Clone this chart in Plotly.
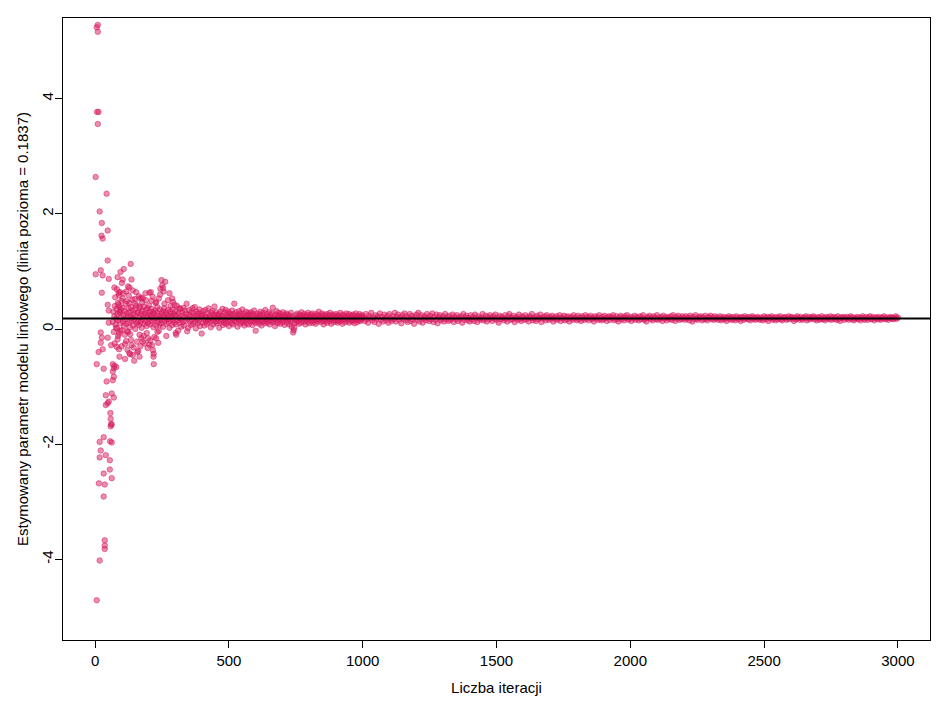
"""
Running estimate of a linear-model parameter vs. number of iterations.
R-style scatter with a horizontal reference line.
"""

import plotly.graph_objects as go

COLORS = {
    "point": "rgba(216,27,96,0.5)",
    "ref": "#000000",
    "axis": "#000000",
    "bg": "#FFFFFF",
}
FONT = "Liberation Sans, Arial, sans-serif"

REF_VALUE = 0.1837

# --- scattered early estimates (iteration, estimate) ---
early_iter = [
    10, 6, 10, 7, 13, 10, 2, 43, 17, 25, 47, 24, 28, 47, 21, 2, 28, 51, 25, 47,
    51, 51, 95, 107, 133,
    21, 25, 21, 47, 28, 13, 6, 32, 66, 72, 79, 70, 66, 70, 66, 43, 62, 70, 40, 51,
    40, 47, 57, 58, 60, 58, 62, 17, 32, 56, 62, 21, 17, 40, 55, 32, 55, 62, 14, 36,
    32, 36, 36, 36, 17, 6,
    72, 81, 89, 93, 103, 98, 116, 123, 128, 136, 141, 153, 148, 166, 173, 188, 203,
    208, 211, 238, 248, 251, 254, 256, 278, 288, 291, 297, 315,
    103, 88, 178, 228, 128, 85, 91, 166,
    78, 93, 86, 73, 81, 89, 111, 116, 123, 131, 136, 141, 131, 158, 161, 166, 173,
    178, 186, 193, 198, 203, 213, 216, 219, 218, 219, 228, 233, 241, 303, 301,
    60, 91, 128, 166,
    75, 84, 92, 99, 105, 112, 118, 121, 126, 134, 139, 144, 150, 156, 163, 169,
    176, 181, 190, 196, 201, 206, 215, 221, 226, 236, 243, 259, 266, 272, 282,
    262, 244, 112, 146, 100, 84,
]
early_est = [
    5.28, 5.24, 5.16, 3.77, 3.77, 3.56, 2.64, 2.35, 2.04, 1.84, 1.71, 1.62, 1.57,
    1.19, 1.02, 0.95, 0.93, 0.87, 0.63, 0.42, 0.32, 0.11, 0.99, 1.04, 1.13,
    -0.06, -0.15, -0.24, -0.15, -0.35, -0.40, -0.61, -0.69, -0.61, -0.64, -0.66,
    -0.68, -0.74, -0.83, -0.89, -0.91, -1.12, -1.19, -1.15, -1.26, -1.32, -1.29,
    -1.46, -1.56, -1.65, -1.69, -1.66, -1.96, -1.88, -1.95, -1.97, -2.11, -2.23,
    -2.19, -2.28, -2.51, -2.44, -2.59, -2.68, -2.70, -2.91, -3.67, -3.76, -3.82,
    -4.02, -4.71,
    0.72, 0.69, 0.59, 0.64, 0.53, 0.49, 0.65, 0.74, 0.72, 0.86, 0.67, 0.64, 0.52,
    0.53, 0.54, 0.62, 0.63, 0.64, 0.49, 0.53, 0.85, 0.76, 0.71, 0.65, 0.62, 0.53,
    0.47, 0.42, 0.36,
    0.86, 0.63, 0.53, 0.47, 0.45, 0.45, 0.30, 0.39,
    0.02, -0.03, -0.12, -0.25, -0.31, -0.35, -0.10, -0.21, -0.05, -0.09, -0.28,
    -0.45, -0.44, -0.40, -0.38, -0.10, -0.16, -0.22, -0.25, -0.07, -0.16, -0.27,
    -0.28, -0.37, -0.43, -0.48, -0.61, -0.16, -0.05, 0.07, -0.10, -0.07,
    -0.28, -0.48, -0.42, -0.48,
    0.55, -0.18, 0.38, -0.30, 0.62, -0.26, 0.48, -0.36, 0.58, -0.19, 0.51, -0.32,
    0.44, -0.22, 0.57, -0.30, 0.46, -0.12, 0.50, -0.33, 0.41, -0.20, 0.56, -0.14,
    0.45, -0.24, 0.60, 0.44, -0.12, 0.50, 0.40,
    0.82, 0.70, -0.52, -0.55, 0.80, 0.90,
]

# --- dense core near the reference line, iterations 66..298 every 2 ---
core_start, core_step = 66, 2
core_est = [
    0.12, 0.30, -0.05, 0.22, 0.40, 0.08, 0.18, 0.35, 0.01, 0.26,
    0.15, 0.42, -0.08, 0.28, 0.10, 0.33, 0.20, -0.02, 0.37, 0.13,
    0.24, 0.05, 0.31, 0.17, 0.44, 0.09, 0.27, -0.04, 0.21, 0.36,
    0.11, 0.29, 0.03, 0.23, 0.38, 0.14, 0.19, 0.32, 0.06, 0.25,
    0.16, 0.34, 0.00, 0.22, 0.41, 0.10, 0.28, 0.13, 0.30, 0.07,
    0.20, 0.37, 0.12, 0.26, 0.02, 0.31, 0.17, 0.23, 0.39, 0.09,
    0.27, 0.14, 0.33, 0.05, 0.22, 0.36, 0.11, 0.25, 0.18, 0.30,
    0.08, 0.24, 0.35, 0.13, 0.20, 0.29, 0.03, 0.26, 0.15, 0.32,
    0.19, 0.06, 0.28, 0.38, 0.12, 0.23, -0.03, 0.17, 0.34, 0.21,
    0.10, 0.27, 0.16, 0.31, 0.04, 0.24, 0.36, 0.14, 0.20, 0.29,
    0.09, 0.25, 0.18, 0.33, 0.12, 0.22, 0.02, 0.30, 0.16, 0.27,
    0.21, 0.07, 0.34, 0.15, 0.26, 0.11, 0.23,
]

# --- converging band, iterations 300..1000 every 2 ---
band1_start, band1_step = 300, 2
band1_est = [
    0.31, 0.08, 0.24, 0.40, 0.15, -0.03, 0.28, 0.19, 0.11, 0.35,
    0.17, 0.04, 0.29, 0.23, 0.12, 0.37, 0.06, 0.21, 0.32, 0.14,
    0.26, 0.44, -0.04, 0.18, 0.02, 0.25, 0.33, 0.13, 0.22, 0.07,
    0.29, 0.16, 0.36, 0.09, 0.20, 0.27, 0.38, 0.12, 0.01, 0.23,
    0.30, 0.18, 0.10, 0.27, 0.15, 0.34, 0.05, 0.21, 0.26, -0.08,
    0.24, 0.11, 0.31, 0.17, 0.06, 0.22, 0.33, 0.14, 0.20, 0.09,
    0.27, 0.16, 0.36, 0.12, 0.23, 0.19, 0.03, 0.28, 0.15, 0.31,
    0.19, 0.08, 0.25, 0.39, 0.13, 0.21, 0.29, 0.10, 0.18, 0.24,
    0.14, 0.26, 0.02, 0.20, 0.30, 0.12, 0.23, 0.17, 0.35, 0.07,
    0.22, 0.11, 0.28, 0.16, 0.33, 0.09, 0.19, 0.25, 0.13, 0.30,
    0.05, 0.21, 0.27, 0.15, 0.24, 0.10, 0.32, 0.18, 0.08, 0.26,
    0.44, 0.14, 0.22, 0.29, 0.12, 0.19, 0.04, 0.25, 0.16, 0.31,
    0.20, 0.09, 0.27, 0.13, 0.23, 0.34, 0.11, 0.18, 0.26, 0.06,
    0.21, 0.15, 0.30, 0.10, 0.24, 0.17, 0.28, 0.08, 0.19, 0.25,
    0.13, 0.29, 0.16, 0.22, 0.07, 0.26, 0.14, 0.32, 0.18, 0.11,
    -0.03, 0.23, 0.17, 0.27, 0.12, 0.20, 0.09, 0.25, 0.15, 0.30,
    0.19, 0.06, 0.24, 0.13, 0.28, 0.16, 0.21, 0.10, 0.33, 0.18,
    0.14, 0.26, 0.11, 0.22, 0.17, 0.29, 0.08, 0.20, 0.24, 0.13,
    0.27, 0.16, 0.37, 0.12, 0.21, 0.18, 0.05, 0.25, 0.15, 0.31,
    0.19, 0.10, 0.23, 0.28, 0.14, 0.20, 0.09, 0.26, 0.17, 0.22,
    0.12, 0.29, 0.16, 0.21, 0.07, 0.24, 0.18, 0.27, 0.11, 0.20,
    0.25, 0.15, 0.19, 0.08, 0.23, 0.13, 0.28, 0.04, 0.17, 0.21,
    -0.06, -0.02, 0.02, 0.10, 0.16, 0.24, 0.12, 0.19, 0.27, 0.14,
    0.20, 0.09, 0.25, 0.17, 0.22, 0.11, 0.29, 0.15, 0.19, 0.23,
    0.13, 0.26, 0.18, 0.08, 0.21, 0.16, 0.24, 0.12, 0.28, 0.17,
    0.22, 0.10, 0.19, 0.25, 0.14, 0.20, 0.27, 0.11, 0.18, 0.23,
    0.15, 0.21, 0.09, 0.26, 0.17, 0.13, 0.24, 0.19, 0.30, 0.16,
    0.20, 0.12, 0.23, 0.18, 0.27, 0.14, 0.21, 0.08, 0.25, 0.17,
    0.13, 0.22, 0.19, 0.26, 0.11, 0.20, 0.16, 0.24, 0.14, 0.28,
    0.18, 0.09, 0.23, 0.17, 0.21, 0.25, 0.12, 0.19, 0.15, 0.22,
    0.26, 0.14, 0.20, 0.11, 0.24, 0.17, 0.22, 0.13, 0.28, 0.18,
    0.15, 0.21, 0.09, 0.25, 0.19, 0.16, 0.23, 0.12, 0.20, 0.27,
    0.17, 0.22, 0.14, 0.19, 0.26, 0.11, 0.21, 0.18, 0.24, 0.15,
    0.20, 0.13, 0.25, 0.17, 0.22, 0.10, 0.19, 0.27, 0.16, 0.21,
    0.12, 0.23, 0.18, 0.15, 0.26, 0.20, 0.14, 0.22, 0.17, 0.24,
    0.19,
]

# --- converging band, iterations 1004..3000 every 4 ---
band2_start, band2_step = 1004, 4
band2_est = [
    0.21, 0.14, 0.26, 0.17, 0.11, 0.23, 0.19, 0.28, 0.15, 0.20,
    0.12, 0.24, 0.18, 0.22, 0.09, 0.27, 0.16, 0.21, 0.13, 0.25,
    0.19, 0.15, 0.23, 0.11, 0.26, 0.18, 0.14, 0.22, 0.17, 0.28,
    0.13, 0.21, 0.25, 0.16, 0.20, 0.10, 0.24, 0.18, 0.27, 0.15,
    0.22, 0.12, 0.19, 0.26, 0.14, 0.23, 0.17, 0.09, 0.21, 0.25,
    0.16, 0.28, 0.13, 0.20, 0.24, 0.11, 0.18, 0.22, 0.15, 0.26,
    0.19, 0.14, 0.23, 0.17, 0.27, 0.12, 0.21, 0.16, 0.25, 0.10,
    0.20, 0.24, 0.15, 0.18, 0.22, 0.13, 0.26, 0.17, 0.21, 0.14,
    0.23, 0.16, 0.19, 0.25, 0.12, 0.21, 0.17, 0.24, 0.14, 0.20,
    0.18, 0.22, 0.11, 0.26, 0.16, 0.20, 0.23, 0.15, 0.19, 0.13,
    0.24, 0.17, 0.21, 0.14, 0.25, 0.19, 0.12, 0.22, 0.18, 0.16,
    0.20, 0.26, 0.15, 0.18, 0.23, 0.13, 0.21, 0.17, 0.24, 0.19,
    0.14, 0.22, 0.18, 0.25, 0.16, 0.20, 0.11, 0.23, 0.17, 0.21,
    0.19, 0.15, 0.24, 0.18, 0.13, 0.22, 0.26, 0.16, 0.20, 0.17,
    0.23, 0.12, 0.19, 0.21, 0.16, 0.25, 0.18, 0.14, 0.22, 0.20,
    0.16, 0.24, 0.17, 0.20, 0.13, 0.22, 0.19, 0.26, 0.15, 0.18,
    0.21, 0.14, 0.23, 0.17, 0.19, 0.25, 0.12, 0.20, 0.18, 0.22,
    0.15, 0.24, 0.19, 0.16, 0.21, 0.18, 0.23, 0.13, 0.20, 0.17,
    0.22, 0.16, 0.19, 0.24, 0.14, 0.20, 0.18, 0.23, 0.15, 0.21,
    0.17, 0.22, 0.13, 0.19, 0.21, 0.16, 0.24, 0.18, 0.20, 0.15,
    0.23, 0.17, 0.20, 0.14, 0.22, 0.19, 0.16, 0.24, 0.18, 0.21,
    0.15, 0.20, 0.23, 0.17, 0.19, 0.13, 0.22, 0.18, 0.21, 0.16,
    0.24, 0.18, 0.15, 0.21, 0.17, 0.23, 0.19, 0.14, 0.20, 0.22,
    0.16, 0.21, 0.19, 0.24, 0.15, 0.18, 0.22, 0.17, 0.13, 0.20,
    0.23, 0.17, 0.20, 0.15, 0.22, 0.19, 0.24, 0.16, 0.18, 0.21,
    0.14, 0.20, 0.18, 0.23, 0.16, 0.21, 0.19, 0.15, 0.22, 0.17,
    0.20, 0.24, 0.16, 0.18, 0.13, 0.21, 0.19, 0.23, 0.17, 0.20,
    0.15, 0.22, 0.19, 0.17, 0.24, 0.16, 0.20, 0.18, 0.21, 0.14,
    0.23, 0.18, 0.20, 0.15, 0.21, 0.19, 0.17, 0.22, 0.16, 0.24,
    0.19, 0.14, 0.21, 0.18, 0.23, 0.16, 0.20, 0.17, 0.22, 0.19,
    0.16, 0.22, 0.18, 0.20, 0.15, 0.23, 0.19, 0.13, 0.21, 0.17,
    0.24, 0.18, 0.16, 0.21, 0.19, 0.22, 0.15, 0.20, 0.17, 0.23,
    0.18, 0.15, 0.21, 0.19, 0.23, 0.17, 0.20, 0.16, 0.22, 0.18,
    0.20, 0.16, 0.19, 0.22, 0.15, 0.18, 0.21, 0.17, 0.20, 0.14,
    0.19, 0.22, 0.17, 0.20, 0.16, 0.21, 0.18, 0.15, 0.22, 0.19,
    0.17, 0.20, 0.14, 0.21, 0.19, 0.16, 0.22, 0.18, 0.20, 0.17,
    0.21, 0.15, 0.19, 0.22, 0.17, 0.20, 0.16, 0.19, 0.21, 0.18,
    0.16, 0.20, 0.18, 0.15, 0.22, 0.19, 0.17, 0.21, 0.14, 0.20,
    0.19, 0.22, 0.16, 0.18, 0.20, 0.15, 0.21, 0.17, 0.19, 0.22,
    0.17, 0.15, 0.20, 0.19, 0.21, 0.16, 0.18, 0.22, 0.17, 0.20,
    0.21, 0.18, 0.14, 0.20, 0.17, 0.22, 0.19, 0.16, 0.21, 0.18,
    0.16, 0.20, 0.19, 0.22, 0.15, 0.18, 0.21, 0.17, 0.20, 0.19,
    0.22, 0.17, 0.20, 0.15, 0.19, 0.21, 0.16, 0.18, 0.22, 0.17,
    0.19, 0.15, 0.21, 0.18, 0.20, 0.17, 0.22, 0.16, 0.19, 0.21,
    0.17, 0.20, 0.16, 0.22, 0.18, 0.14, 0.20, 0.19, 0.21, 0.16,
    0.20, 0.18, 0.21, 0.16, 0.19, 0.22, 0.17, 0.20, 0.15, 0.19,
    0.18, 0.21, 0.17, 0.20, 0.15, 0.19, 0.22, 0.18, 0.16, 0.21,
    0.19, 0.16, 0.20, 0.22, 0.17, 0.18, 0.21, 0.15, 0.19, 0.20,
    0.17, 0.21, 0.18, 0.16, 0.20, 0.19, 0.22, 0.17, 0.18, 0.20,
    0.16, 0.19, 0.21, 0.18, 0.20, 0.17, 0.19, 0.22, 0.18, 0.20,
]

x_ticks = [0, 500, 1000, 1500, 2000, 2500, 3000]
y_ticks = [-4, -2, 0, 2, 4]
y_tick_labels = ["-4", "-2", "0", "2", "4"]

core_iter = [core_start + core_step * k for k in range(len(core_est))]
band1_iter = [band1_start + band1_step * k for k in range(len(band1_est))]
band2_iter = [band2_start + band2_step * k for k in range(len(band2_est))]

all_iter = early_iter + core_iter + band1_iter + band2_iter
all_est = early_est + core_est + band1_est + band2_est

fig = go.Figure(go.Scatter(
    x=all_iter,
    y=all_est,
    mode="markers",
    marker={"size": 5.5, "color": COLORS["point"],
            "line": {"width": 1, "color": COLORS["point"]}},
    hoverinfo="x+y",
))

fig.add_hline(y=REF_VALUE, line_color=COLORS["ref"], line_width=2)

axis_common = dict(
    showgrid=False, zeroline=False,
    showline=True, mirror=True, linecolor=COLORS["axis"], linewidth=1,
    ticks="outside", ticklen=7, tickcolor=COLORS["axis"], tickwidth=1,
    tickfont={"size": 15, "color": "#000000", "family": FONT},
)

fig.update_layout(
    width=950,
    height=706,
    margin=dict(l=63, r=20, t=18, b=64),
    paper_bgcolor=COLORS["bg"],
    plot_bgcolor=COLORS["bg"],
    font={"family": FONT, "color": "#000000", "size": 15},
    showlegend=False,
    xaxis=dict(
        axis_common,
        range=[-120, 3120],
        tickvals=x_ticks,
        title={"text": "Liczba iteracji", "standoff": 14,
               "font": {"size": 15, "family": FONT}},
    ),
    yaxis=dict(
        axis_common,
        range=[-5.40, 5.40],
        tickvals=y_ticks,
        ticktext=y_tick_labels,
        tickangle=-90,
        ticklabelstandoff=-4,
        title={"text": "Estymowany parametr modelu liniowego (linia pozioma = 0.1837)",
               "standoff": 6, "font": {"size": 15, "family": FONT}},
    ),
)

# drop the page's default body margin so the figure sits at the window origin
fig.write_html("out.html", config={"displayModeBar": False},
               post_script="document.body.style.margin = '0';")
